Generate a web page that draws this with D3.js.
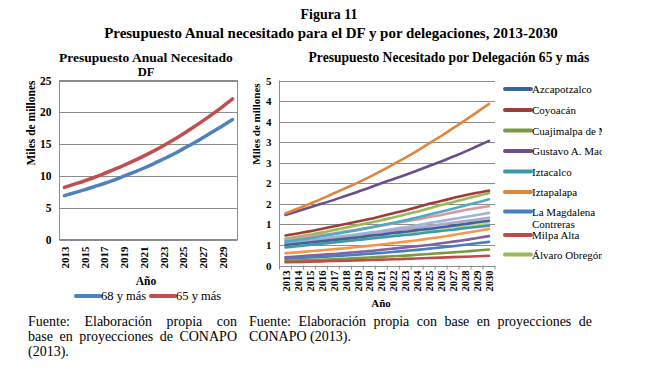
<!DOCTYPE html>
<html><head><meta charset="utf-8">
<script src="https://cdn.jsdelivr.net/npm/d3@7/dist/d3.min.js"></script>
<style>body{margin:0;background:#fff}svg{display:block}
svg text{font-family:"Liberation Serif","DejaVu Serif",serif;}
</style>
</head><body>
<svg id="c" width="659" height="370"></svg>
<script>
// ---------- DATA ----------
const years = [2013,2014,2015,2016,2017,2018,2019,2020,2021,2022,2023,2024,2025,2026,2027,2028,2029,2030];
const leftYTicks = [0,5,10,15,20,25];
const rightYTicks = [0,0.5,1,1.5,2,2.5,3,3.5,4,4.5];
const leftXLabels = [2013,2015,2017,2019,2021,2023,2025,2027,2029];

const dfNames = ["68 y más","65 y más"];
const df68 = [6.9,7.35,7.8,8.3,8.8,9.35,9.95,10.55,11.2,11.9,12.65,13.4,14.25,15.1,16.0,16.95,17.9,18.85];
const df65 = [8.2,8.7,9.2,9.75,10.35,11.0,11.65,12.35,13.1,13.9,14.75,15.65,16.6,17.6,18.65,19.75,20.9,22.1];

const delegNames = ["Azcapotzalco","Coyoacán","Cuajimalpa de Morelos","Gustavo A. Madero","Iztacalco","Iztapalapa","La Magdalena Contreras","Milpa Alta","Álvaro Obregón","Benito Juárez","Cuauhtémoc","Miguel Hidalgo","Tláhuac","Tlalpan","Venustiano Carranza","Xochimilco"];
const azcapotzalco = [0.50,0.53,0.56,0.59,0.62,0.65,0.68,0.72,0.75,0.79,0.82,0.86,0.89,0.93,0.97,1.01,1.05,1.09];
const coyoacan = [0.73,0.78,0.83,0.89,0.95,1.01,1.07,1.13,1.20,1.27,1.34,1.42,1.50,1.57,1.64,1.71,1.77,1.82];
const cuajimalpa = [0.11,0.12,0.13,0.14,0.15,0.165,0.18,0.195,0.21,0.225,0.24,0.26,0.28,0.30,0.32,0.34,0.365,0.389];
const gustavoMadero = [1.23,1.32,1.41,1.50,1.59,1.69,1.79,1.89,2.00,2.10,2.20,2.31,2.42,2.53,2.65,2.77,2.90,3.03];
const iztacalco = [0.44,0.47,0.50,0.53,0.56,0.59,0.62,0.65,0.68,0.71,0.74,0.77,0.81,0.84,0.87,0.91,0.94,0.97];
const iztapalapa = [1.27,1.38,1.50,1.62,1.75,1.88,2.01,2.15,2.30,2.46,2.62,2.79,2.97,3.15,3.34,3.53,3.73,3.93];
const magdalena = [0.165,0.18,0.195,0.21,0.225,0.245,0.265,0.285,0.305,0.33,0.355,0.38,0.41,0.44,0.47,0.505,0.54,0.576];
const milpaAlta = [0.08,0.087,0.094,0.10,0.108,0.116,0.124,0.133,0.142,0.151,0.161,0.171,0.181,0.192,0.203,0.214,0.225,0.236];
const alvaroObregon = [0.65,0.70,0.75,0.80,0.86,0.92,0.98,1.04,1.10,1.17,1.24,1.31,1.39,1.47,1.54,1.62,1.69,1.76];
const benitoJuarez = [0.62,0.66,0.70,0.74,0.78,0.83,0.87,0.92,0.97,1.02,1.07,1.12,1.18,1.23,1.29,1.35,1.40,1.44];
const cuauhtemoc = [0.55,0.58,0.62,0.65,0.69,0.72,0.76,0.80,0.84,0.89,0.93,0.98,1.03,1.08,1.13,1.18,1.23,1.28];
const miguelHidalgo = [0.53,0.56,0.59,0.62,0.65,0.69,0.72,0.76,0.80,0.84,0.88,0.92,0.96,1.00,1.04,1.08,1.12,1.16];
const tlahuac = [0.20,0.22,0.24,0.26,0.28,0.30,0.33,0.35,0.38,0.41,0.44,0.47,0.50,0.54,0.58,0.62,0.67,0.715];
const tlalpan = [0.58,0.62,0.66,0.71,0.76,0.81,0.86,0.92,0.98,1.04,1.10,1.17,1.24,1.31,1.38,1.46,1.53,1.61];
const venustiano = [0.48,0.51,0.54,0.57,0.60,0.63,0.66,0.69,0.72,0.76,0.79,0.83,0.86,0.90,0.93,0.96,1.00,1.03];
const xochimilco = [0.30,0.32,0.345,0.37,0.395,0.42,0.45,0.48,0.51,0.545,0.58,0.615,0.655,0.695,0.74,0.79,0.84,0.89];
const delegValues = [azcapotzalco,coyoacan,cuajimalpa,gustavoMadero,iztacalco,iztapalapa,magdalena,milpaAlta,alvaroObregon,benitoJuarez,cuauhtemoc,miguelHidalgo,tlahuac,tlalpan,venustiano,xochimilco];
const legendShown = 9;

// ---------- STYLE ----------
const dfColors = ["#4F81BD","#C0504D"];
const delegColors = ["#3C6496","#9F3C38","#7A9A41","#6A4F8C","#3F97AC","#E0863C","#4A7EBB","#BE4B48","#98BA57","#DA9A98","#9CB7DA","#B3A3C8","#7E62A3","#4BACC6","#C2D69D","#F79646"];
const drawOrder = [8,9,10,11,14,0,4,13,15,12,6,2,7,1,3,5];
const grid = "#8c8c8c";

const svg = d3.select("#c");
svg.append("rect").attr("width",659).attr("height",370).attr("fill","#fff");

function fitW(sel, w){ const cur = sel.node().getComputedTextLength(); const fs = parseFloat(sel.attr("font-size")); sel.attr("font-size", fs*w/cur); return sel; }

// ---------- TITLES ----------
fitW(svg.append("text").attr("x",329).attr("y",19).attr("text-anchor","middle").attr("font-weight","bold").attr("font-size",15).text("Figura 11"),57);
fitW(svg.append("text").attr("x",331).attr("y",38).attr("text-anchor","middle").attr("font-weight","bold").attr("font-size",15).text("Presupuesto Anual necesitado para el DF y por delegaciones, 2013-2030"),454);
fitW(svg.append("text").attr("x",146).attr("y",62).attr("text-anchor","middle").attr("font-weight","bold").attr("font-size",12.5).text("Presupuesto Anual Necesitado"),174);
svg.append("text").attr("x",146).attr("y",76).attr("text-anchor","middle").attr("font-weight","bold").attr("font-size",12.5).text("DF");
fitW(svg.append("text").attr("x",449).attr("y",62).attr("text-anchor","middle").attr("font-weight","bold").attr("font-size",12.5).text("Presupuesto Necesitado por Delegación 65 y más"),281);

// ---------- LEFT CHART ----------
const L = {x0:59.5, x1:237.5, y0:80.5, y1:239.5};
const lx = d3.scalePoint().domain(years).range([L.x0+(L.x1-L.x0)/36, L.x1-(L.x1-L.x0)/36]);
const ly = d3.scaleLinear().domain([0,25]).range([L.y1, L.y0]);
const gL = svg.append("g");
gL.selectAll("line.g").data(leftYTicks).join("line").attr("x1",L.x0).attr("x2",L.x1)
  .attr("y1",d=>Math.round(ly(d))+0.5).attr("y2",d=>Math.round(ly(d))+0.5).attr("stroke",grid).attr("stroke-width",1);
gL.append("rect").attr("x",L.x0).attr("y",L.y0).attr("width",L.x1-L.x0).attr("height",L.y1-L.y0).attr("fill","none").attr("stroke",grid);
const lyAxis = gL.append("g").attr("transform",`translate(${L.x0},0)`).call(d3.axisLeft(ly).tickValues(leftYTicks).tickSize(0).tickPadding(8));
lyAxis.select(".domain").remove();
lyAxis.attr("font-family",null);
lyAxis.selectAll("text").attr("font-weight","bold").attr("font-size",11.5).attr("fill","#000");
const lxAxis = gL.append("g").attr("transform",`translate(0,${L.y1})`).call(d3.axisBottom(lx).tickValues(leftXLabels).tickSize(0).tickPadding(0));
lxAxis.select(".domain").remove();
lxAxis.attr("font-family",null);
lxAxis.selectAll("text").attr("font-weight","bold").attr("font-size",11).attr("fill","#000")
  .attr("transform","rotate(-90)").attr("text-anchor","end").attr("dy","0.35em").attr("x",-7).attr("y",0);
const lline = d3.line().x((d,i)=>lx(years[i])).y(d=>ly(d)).curve(d3.curveMonotoneX);
[df68, df65].forEach((s,k)=>{
  gL.append("path").attr("d",lline(s)).attr("fill","none").attr("stroke",dfColors[k]).attr("stroke-width",3.5).attr("stroke-linecap","round");
});
svg.append("text").attr("transform","translate(35,123) rotate(-90)").attr("text-anchor","middle").attr("font-weight","bold").attr("font-size",11.5).text("Miles de millones");
svg.append("text").attr("x",146).attr("y",285).attr("text-anchor","middle").attr("font-weight","bold").attr("font-size",11.5).text("Año");
const legL = [{x:76,name:dfNames[0],c:dfColors[0]},{x:151,name:dfNames[1],c:dfColors[1]}];
legL.forEach(o=>{
  svg.append("line").attr("x1",o.x).attr("x2",o.x+24).attr("y1",296).attr("y2",296).attr("stroke",o.c).attr("stroke-width",4).attr("stroke-linecap","round");
  svg.append("text").attr("x",o.x+25).attr("y",300).attr("font-size",12.5).text(o.name);
});

// ---------- RIGHT CHART ----------
const R = {x0:279.5, x1:495, y0:80.5, y1:265.5};
const rx = d3.scalePoint().domain(years).range([R.x0+(R.x1-R.x0)/36, R.x1-(R.x1-R.x0)/36]);
const ry = d3.scaleLinear().domain([0,4.5]).range([R.y1, R.y0]);
const gR = svg.append("g");
gR.selectAll("line.g").data(rightYTicks).join("line").attr("x1",R.x0).attr("x2",R.x1)
  .attr("y1",d=>Math.round(ry(d))+0.5).attr("y2",d=>Math.round(ry(d))+0.5).attr("stroke",grid).attr("stroke-width",1);
gR.append("line").attr("x1",R.x0).attr("x2",R.x0).attr("y1",R.y0).attr("y2",R.y1+0.5).attr("stroke",grid);
const bw = (R.x1-R.x0)/18;
gR.selectAll("line.t").data(d3.range(19)).join("line").attr("x1",d=>R.x0+d*bw).attr("x2",d=>R.x0+d*bw)
  .attr("y1",R.y1).attr("y2",R.y1+4).attr("stroke",grid);
const ryAxis = gR.append("g").attr("transform",`translate(${R.x0},0)`).call(d3.axisLeft(ry).tickValues(rightYTicks).tickSize(0).tickPadding(8).tickFormat(d=>String(Math.floor(d+0.5))));
ryAxis.select(".domain").remove();
ryAxis.attr("font-family",null);
ryAxis.selectAll("text").attr("font-weight","bold").attr("font-size",11).attr("fill","#000");
const rxAxis = gR.append("g").attr("transform",`translate(0,${R.y1})`).call(d3.axisBottom(rx).tickValues(years).tickSize(0).tickPadding(0));
rxAxis.select(".domain").remove();
rxAxis.attr("font-family",null);
rxAxis.selectAll("text").attr("font-weight","bold").attr("font-size",10.5).attr("fill","#000")
  .attr("transform","rotate(-90)").attr("text-anchor","end").attr("dy","0.35em").attr("x",-5).attr("y",0);
const rline = d3.line().x((d,i)=>rx(years[i])).y(d=>ry(d)).curve(d3.curveMonotoneX);
drawOrder.forEach(k=>{
  gR.append("path").attr("d",rline(delegValues[k])).attr("fill","none").attr("stroke",delegColors[k]).attr("stroke-width",2.6).attr("stroke-linecap","round");
});
svg.append("text").attr("transform","translate(260,124) rotate(-90)").attr("text-anchor","middle").attr("font-weight","bold").attr("font-size",11).text("Miles de millones");
svg.append("text").attr("x",381).attr("y",307).attr("text-anchor","middle").attr("font-weight","bold").attr("font-size",11).text("Año");

// legend (clipped at right like the original)
svg.append("clipPath").attr("id","legclip").append("rect").attr("x",490).attr("y",70).attr("width",112).attr("height",200);
const gLeg = svg.append("g").attr("clip-path","url(#legclip)");
const legRowY = [89,110,130.5,151,171.5,192,211.5,235,254.5];
for(let i=0;i<legendShown;i++){
  const y = legRowY[i];
  gLeg.append("line").attr("x1",505).attr("x2",531).attr("y1",y).attr("y2",y).attr("stroke",delegColors[i]).attr("stroke-width",4).attr("stroke-linecap","round");
  const name = delegNames[i];
  const t = gLeg.append("text").attr("x",532).attr("y",y+4).attr("font-size",11);
  if(name==="La Magdalena Contreras"){
    t.append("tspan").attr("x",532).text("La Magdalena");
    t.append("tspan").attr("x",532).attr("dy",12.4).text("Contreras");
  } else t.text(name);
}

// ---------- FOOTERS ----------
function justify(words, x0, x1, y){
  const ts = words.map(w=>svg.append("text").attr("y",y).attr("font-size",14).text(w));
  const ws = ts.map(t=>t.node().getComputedTextLength());
  const gap = (x1-x0-d3.sum(ws))/(words.length-1);
  let x = x0; ts.forEach((t,i)=>{ t.attr("x",x); x += ws[i]+gap; });
}
justify(["Fuente:","Elaboración","propia","con"],28,237,326);
justify(["base","en","proyecciones","de","CONAPO"],28,237,341);
svg.append("text").attr("x",28).attr("y",356).attr("font-size",14).text("(2013).");
justify(["Fuente:","Elaboración","propia","con","base","en","proyecciones","de"],249,592,326);
svg.append("text").attr("x",249).attr("y",341).attr("font-size",14).text("CONAPO (2013).");
</script>
</body></html>
